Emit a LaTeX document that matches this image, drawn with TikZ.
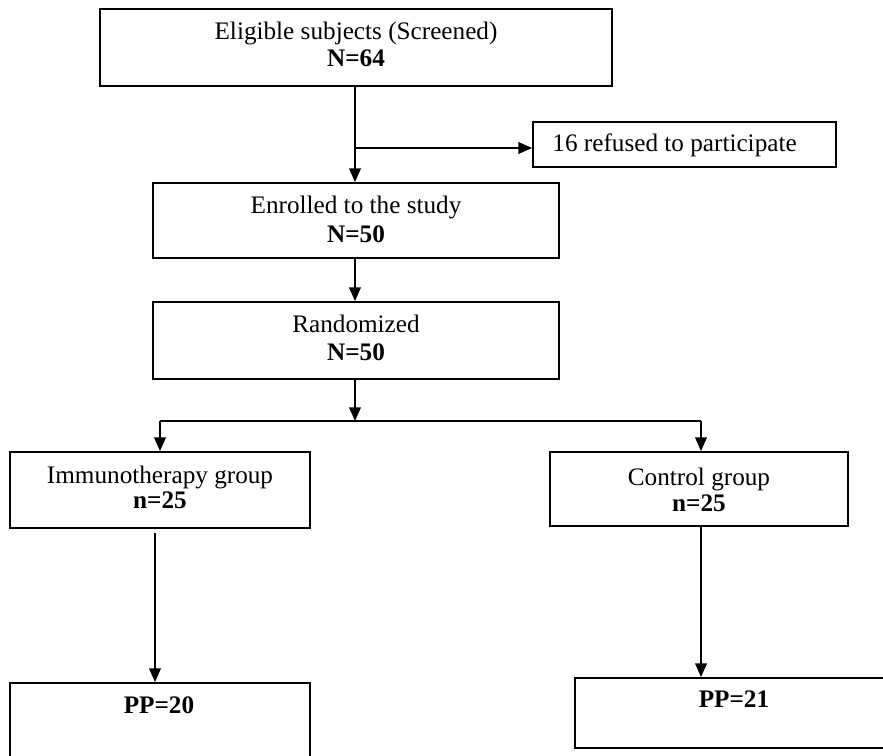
\documentclass[tikz,border=0pt]{standalone}
\usepackage{fontspec}
\setmainfont{Liberation Serif}
\usetikzlibrary{arrows.meta,fit}
\begin{document}
\begin{tikzpicture}[x=0.476pt,y=-0.476pt,
  box/.style={draw,line width=0.9pt,inner sep=0pt},
  txt/.style={anchor=base,inner sep=0pt,font=\fontsize{12}{14}\selectfont},
  arr/.style={line width=0.9pt,-{Triangle[length=6.5pt,width=5.5pt]}},
  ln/.style={line width=0.9pt}]
\useasboundingbox (0,0) rectangle (883,756);
\clip (0,0) rectangle (883,756);
% boxes
\node[box,line width=1.2pt,fit={(100,9)(612,86)}] (elig) {};
\node[box,fit={(533,122)(836,167)}] (ref) {};
\node[box,fit={(153,183)(559,258)}] (enr) {};
\node[box,fit={(153,302)(559,379)}] (rand) {};
\node[box,fit={(10,452)(310,528)}] (imm) {};
\node[box,fit={(550,452)(848,526)}] (ctl) {};
\node[box,fit={(10,683)(310,770)}] (pp20) {};
\node[box,fit={(575,678)(895,748)}] (pp21) {};
% texts
\node[txt] (eligA) at (356,39) {Eligible subjects (Screened)};
\node[txt] (eligB) at (356,67) {\bfseries N=64};
\node[txt,anchor=base west] (refA) at (552,151) {16 refused to participate};
\node[txt] (enrA) at (356,213) {Enrolled to the study};
\node[txt] (enrB) at (356,242) {\bfseries N=50};
\node[txt] (randA) at (356,332) {Randomized};
\node[txt] (randB) at (356,360) {\bfseries N=50};
\node[txt] (immA) at (160,483) {Immunotherapy group};
\node[txt] (immB) at (160,508) {\bfseries n=25};
\node[txt] (ctlA) at (699,485) {Control group};
\node[txt] (ctlB) at (699,511) {\bfseries n=25};
\node[txt] (pp20A) at (159,713) {\bfseries PP=20};
\node[txt] (pp21A) at (734,707) {\bfseries PP=21};
% connectors
\coordinate (c1) at (355,148);
\coordinate (br) at (355,421);
\coordinate (bl) at (160,421);
\coordinate (bR) at (701,421);
\coordinate (xl) at (155,600);
\draw[arr] (elig.south -| c1) -- (enr.north -| c1);
\draw[arr] (c1) -- (ref.west |- c1);
\draw[arr] (enr.south -| c1) -- (rand.north -| c1);
\draw[arr] (rand.south -| br) -- (br);
\draw[ln] (bl) -- (bR);
\draw[arr] (bl) -- (imm.north -| bl);
\draw[arr] (bR) -- (ctl.north -| bR);
\draw[arr] ([yshift=-2pt]imm.south -| xl) -- (pp20.north -| xl);
\draw[arr] (ctl.south -| bR) -- (pp21.north -| bR);
\end{tikzpicture}
\end{document}
